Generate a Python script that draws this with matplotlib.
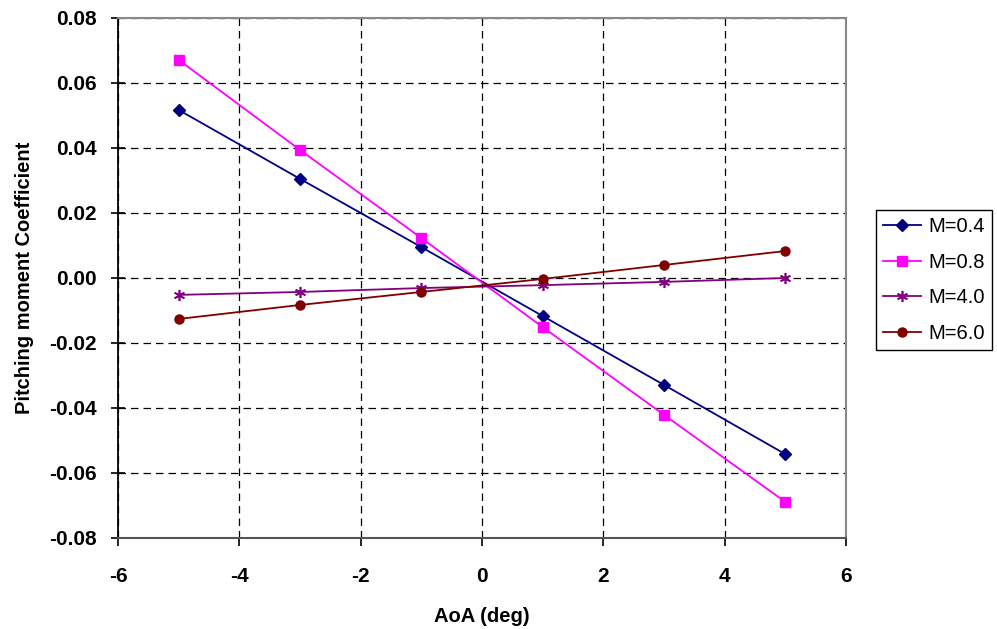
import numpy as np
from matplotlib import pyplot as plt

aoa = [-5, -3, -1, 1, 3, 5]
m04 = [0.0517, 0.0305, 0.0095, -0.0117, -0.0329, -0.0542]
m08 = [0.0671, 0.0394, 0.0123, -0.0151, -0.0421, -0.0689]
m40 = [-0.0052, -0.0043, -0.0031, -0.0022, -0.0012, 0.0000]
m60 = [-0.0126, -0.0083, -0.0043, -0.0003, 0.0040, 0.0083]

plt.rcParams['font.family'] = ['Liberation Sans', 'DejaVu Sans']

fig = plt.figure(figsize=(9.97, 6.29), dpi=100)
ax = fig.add_axes([0.1184, 0.1447, 0.7301, 0.8267])

ax.plot(aoa, m04, color='#000080', marker='D', markersize=6, lw=1.3, label='M=0.4')
ax.plot(aoa, m08, color='#ff00ff', marker='s', markersize=6.5, lw=1.3, label='M=0.8')
ax.plot(aoa, m40, color='#800080', marker=(6, 2, 0), markersize=8, mew=1.2, lw=1.3, label='M=4.0')
ax.plot(aoa, m60, color='#800000', marker='o', markersize=6.5, lw=1.3, label='M=6.0')

ax.set_xlim(-6, 6)
ax.set_ylim(-0.08, 0.08)
ax.set_xticks(np.arange(-6, 7, 2))
ax.set_yticks(np.arange(-0.08, 0.081, 0.02))
ax.set_xticklabels([f'{v:d}' for v in range(-6, 7, 2)], fontsize=15, fontweight='bold')
ax.set_yticklabels([f'{v:.2f}' for v in np.arange(-0.08, 0.081, 0.02)], fontsize=15, fontweight='bold')
ax.tick_params(axis='y', direction='inout', length=10, width=1.2, pad=10)
ax.tick_params(axis='x', direction='out', length=6, width=1.2, pad=15)

ax.grid(True, color='black', linestyle=(0, (6, 4)), linewidth=0.9)

ax.spines['left'].set_color('black')
ax.spines['left'].set_linewidth(1.3)
ax.spines['bottom'].set_color('#555555')
ax.spines['bottom'].set_linewidth(1.5)
ax.spines['top'].set_color('#888888')
ax.spines['top'].set_linewidth(1.5)
ax.spines['right'].set_color('#888888')
ax.spines['right'].set_linewidth(1.5)

ax.set_xlabel('AoA (deg)', fontsize=14.5, fontweight='bold', labelpad=15)
ax.set_ylabel('Pitching moment Coefficient', fontsize=14.5, fontweight='bold', labelpad=11)

leg = fig.legend(loc='upper left', bbox_to_anchor=(876 / 997, 1 - 210 / 629), fontsize=14.5,
                 frameon=True, fancybox=False, edgecolor='black', framealpha=1,
                 handlelength=1.9, borderpad=0.35, labelspacing=0.82, handletextpad=0.35,
                 borderaxespad=0)
leg.get_frame().set_linewidth(1.0)

fig.savefig('out.png', dpi=100)
